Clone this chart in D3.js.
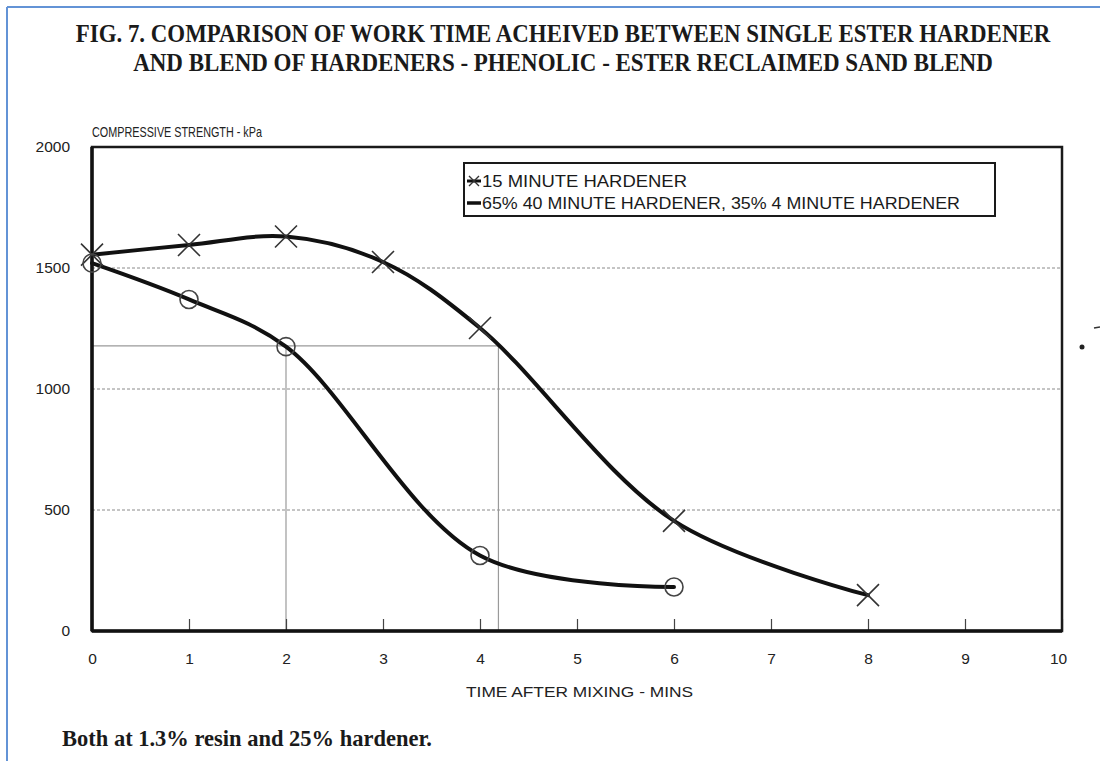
<!DOCTYPE html>
<html>
<head>
<meta charset="utf-8">
<script src="https://cdn.jsdelivr.net/npm/d3@7"></script>
<style>
  html, body { margin: 0; padding: 0; background: #fff; }
  svg { display: block; }
</style>
</head>
<body>
<svg id="chart" width="1100" height="761"></svg>
<script>
// Compressive strength (kPa) vs time after mixing (minutes)
const xTickValues = [0, 1, 2, 3, 4, 5, 6, 7, 8, 9, 10];
const yTickValues = [0, 500, 1000, 1500, 2000];
const gridValues = [500, 1000, 1500];

const singleTimes = [0, 1, 2, 3, 4, 6, 8];
const singleStrength = [1555, 1595, 1630, 1525, 1252, 455, 148];

const blendTimes = [0, 1, 2, 4, 6];
const blendStrength = [1520, 1370, 1175, 312, 182];

// work-time reading lines: strength level and the times where each curve meets it
const workLevel = 1178;
const workTimes = [2, 4.19];

const titleLines = [
  "FIG. 7. COMPARISON OF WORK TIME ACHEIVED BETWEEN SINGLE ESTER HARDENER",
  "AND BLEND OF HARDENERS - PHENOLIC - ESTER RECLAIMED SAND BLEND"
];
const legendLabels = [
  "15 MINUTE HARDENER",
  "65% 40 MINUTE HARDENER, 35% 4 MINUTE HARDENER"
];
const yAxisTitle = "COMPRESSIVE STRENGTH - kPa";
const xAxisTitle = "TIME AFTER MIXING - MINS";
const footnote = "Both at 1.3% resin and 25% hardener.";

const svg = d3.select("#chart");
const plot = { left: 92, right: 1062, top: 147, bottom: 631 };

const x = d3.scaleLinear().domain([0, 10]).range([plot.left, plot.right]);
const y = d3.scaleLinear().domain([0, 2000]).range([plot.bottom, plot.top]);

const sans = "'Liberation Sans', Arial, sans-serif";
const serif = "'Liberation Serif', 'Times New Roman', serif";

// page border
svg.append("line").attr("x1", 7).attr("y1", 7).attr("x2", 1100).attr("y2", 7)
  .attr("stroke", "#6393d6").attr("stroke-width", 2);
svg.append("line").attr("x1", 7).attr("y1", 7).attr("x2", 7).attr("y2", 761)
  .attr("stroke", "#6393d6").attr("stroke-width", 2);

// title: condensed bold serif, each line squeezed horizontally to its width
const titleLayout = [
  { y: 42, width: 975, cx: 563 },
  { y: 71, width: 860, cx: 563 }
];
titleLines.forEach((t, i) => {
  const g = svg.append("g");
  const txt = g.append("text")
    .attr("x", 0).attr("y", 0)
    .attr("text-anchor", "middle")
    .attr("font-family", serif).attr("font-weight", "bold")
    .attr("font-size", 25.5)
    .attr("fill", "#1a1a1a")
    .text(t);
  const natural = txt.node().getComputedTextLength();
  const sx = titleLayout[i].width / natural;
  g.attr("transform", `translate(${titleLayout[i].cx},${titleLayout[i].y}) scale(${sx},1)`);
});

// dotted grid lines
svg.append("g").selectAll("line").data(gridValues).join("line")
  .attr("x1", plot.left).attr("x2", plot.right)
  .attr("y1", d => y(d)).attr("y2", d => y(d))
  .attr("stroke", "#8a8a8a").attr("stroke-width", 1)
  .attr("stroke-dasharray", "3,2");

// work-time reading lines
svg.append("line")
  .attr("x1", x(0)).attr("x2", x(workTimes[1]))
  .attr("y1", y(workLevel)).attr("y2", y(workLevel))
  .attr("stroke", "#9a9a9a").attr("stroke-width", 1.2);
svg.append("g").selectAll("line").data(workTimes).join("line")
  .attr("x1", d => x(d)).attr("x2", d => x(d))
  .attr("y1", y(workLevel)).attr("y2", y(0))
  .attr("stroke", "#9a9a9a").attr("stroke-width", 1.2);

// x axis with inward ticks
const xAxis = d3.axisBottom(x).tickValues(xTickValues).tickSize(-12).tickPadding(22)
  .tickFormat(d3.format("d"));
const gx = svg.append("g").attr("transform", `translate(0,${plot.bottom})`).call(xAxis);
gx.select(".domain").remove();
gx.selectAll(".tick line").attr("stroke", "#444").attr("stroke-width", 1.2);
gx.selectAll(".tick text").attr("font-family", sans).attr("font-size", 15.5).attr("fill", "#222");
gx.selectAll(".tick text").filter(d => d === 10).attr("dx", -4);

// y axis labels
const yAxis = d3.axisLeft(y).tickValues(yTickValues).tickSize(0).tickPadding(22)
  .tickFormat(d3.format("d"));
const gy = svg.append("g").attr("transform", `translate(${plot.left},0)`).call(yAxis);
gy.select(".domain").remove();
gy.selectAll(".tick text").attr("font-family", sans).attr("font-size", 15.5).attr("fill", "#222");

// plot frame
svg.append("rect")
  .attr("x", plot.left).attr("y", plot.top)
  .attr("width", plot.right - plot.left).attr("height", plot.bottom - plot.top)
  .attr("fill", "none").attr("stroke", "#1a1a1a").attr("stroke-width", 2.5);
svg.append("line").attr("x1", plot.left).attr("x2", plot.left)
  .attr("y1", plot.top).attr("y2", plot.bottom)
  .attr("stroke", "#111").attr("stroke-width", 3.5);
svg.append("line").attr("x1", plot.left).attr("x2", plot.right)
  .attr("y1", plot.bottom).attr("y2", plot.bottom)
  .attr("stroke", "#111").attr("stroke-width", 3.5);

// axis titles
svg.append("text").attr("x", plot.left).attr("y", 137)
  .attr("font-family", sans).attr("font-size", 15).attr("fill", "#222")
  .attr("textLength", 170).attr("lengthAdjust", "spacingAndGlyphs")
  .text(yAxisTitle);
svg.append("text").attr("x", 466).attr("y", 697)
  .attr("font-family", sans).attr("font-size", 15.5).attr("fill", "#222")
  .attr("textLength", 227).attr("lengthAdjust", "spacingAndGlyphs")
  .text(xAxisTitle);

// series
const single = singleTimes.map((t, i) => ({ t, s: singleStrength[i] }));
const blend = blendTimes.map((t, i) => ({ t, s: blendStrength[i] }));

const line = d3.line().x(d => x(d.t)).y(d => y(d.s))
  .curve(d3.curveCatmullRom.alpha(0.5));

[single, blend].forEach(data => {
  svg.append("path").datum(data).attr("d", line)
    .attr("fill", "none").attr("stroke", "#111")
    .attr("stroke-width", 4).attr("stroke-linecap", "round")
    .attr("stroke-linejoin", "round");
});

const crossPath = r => `M${-r},${-r}L${r},${r}M${-r},${r}L${r},${-r}`;

svg.append("g").selectAll("path").data(single).join("path")
  .attr("transform", d => `translate(${x(d.t)},${y(d.s)})`)
  .attr("d", crossPath(11))
  .attr("stroke", "#333").attr("stroke-width", 1.6).attr("fill", "none");

svg.append("g").selectAll("circle").data(blend).join("circle")
  .attr("cx", d => x(d.t)).attr("cy", d => y(d.s)).attr("r", 9)
  .attr("stroke", "#444").attr("stroke-width", 1.6).attr("fill", "none");

// legend
const lg = svg.append("g");
lg.append("rect").attr("x", 464).attr("y", 163).attr("width", 531).attr("height", 53)
  .attr("fill", "#fff").attr("stroke", "#1a1a1a").attr("stroke-width", 2);
lg.append("line").attr("x1", 467).attr("x2", 481).attr("y1", 181).attr("y2", 181)
  .attr("stroke", "#111").attr("stroke-width", 3);
lg.append("path").attr("transform", "translate(474,181)").attr("d", crossPath(5))
  .attr("stroke", "#333").attr("stroke-width", 1.4);
lg.append("line").attr("x1", 467).attr("x2", 481).attr("y1", 203).attr("y2", 203)
  .attr("stroke", "#111").attr("stroke-width", 3.5);
const legendLayout = [{ y: 187, len: 205 }, { y: 209, len: 478 }];
legendLabels.forEach((t, i) => {
  lg.append("text").attr("x", 482).attr("y", legendLayout[i].y)
    .attr("font-family", sans).attr("font-size", 16.5).attr("fill", "#1a1a1a")
    .attr("textLength", legendLayout[i].len).attr("lengthAdjust", "spacingAndGlyphs")
    .text(t);
});

// footnote
svg.append("text").attr("x", 62).attr("y", 746)
  .attr("font-family", serif).attr("font-weight", "bold").attr("font-size", 22.5)
  .attr("fill", "#1a1a1a")
  .attr("textLength", 370).attr("lengthAdjust", "spacingAndGlyphs")
  .text(footnote);

// scan specks at the right margin
svg.append("circle").attr("cx", 1082).attr("cy", 347).attr("r", 2.5).attr("fill", "#222");
svg.append("line").attr("x1", 1094).attr("x2", 1100).attr("y1", 328).attr("y2", 327)
  .attr("stroke", "#333").attr("stroke-width", 1.5);
</script>
</body>
</html>
